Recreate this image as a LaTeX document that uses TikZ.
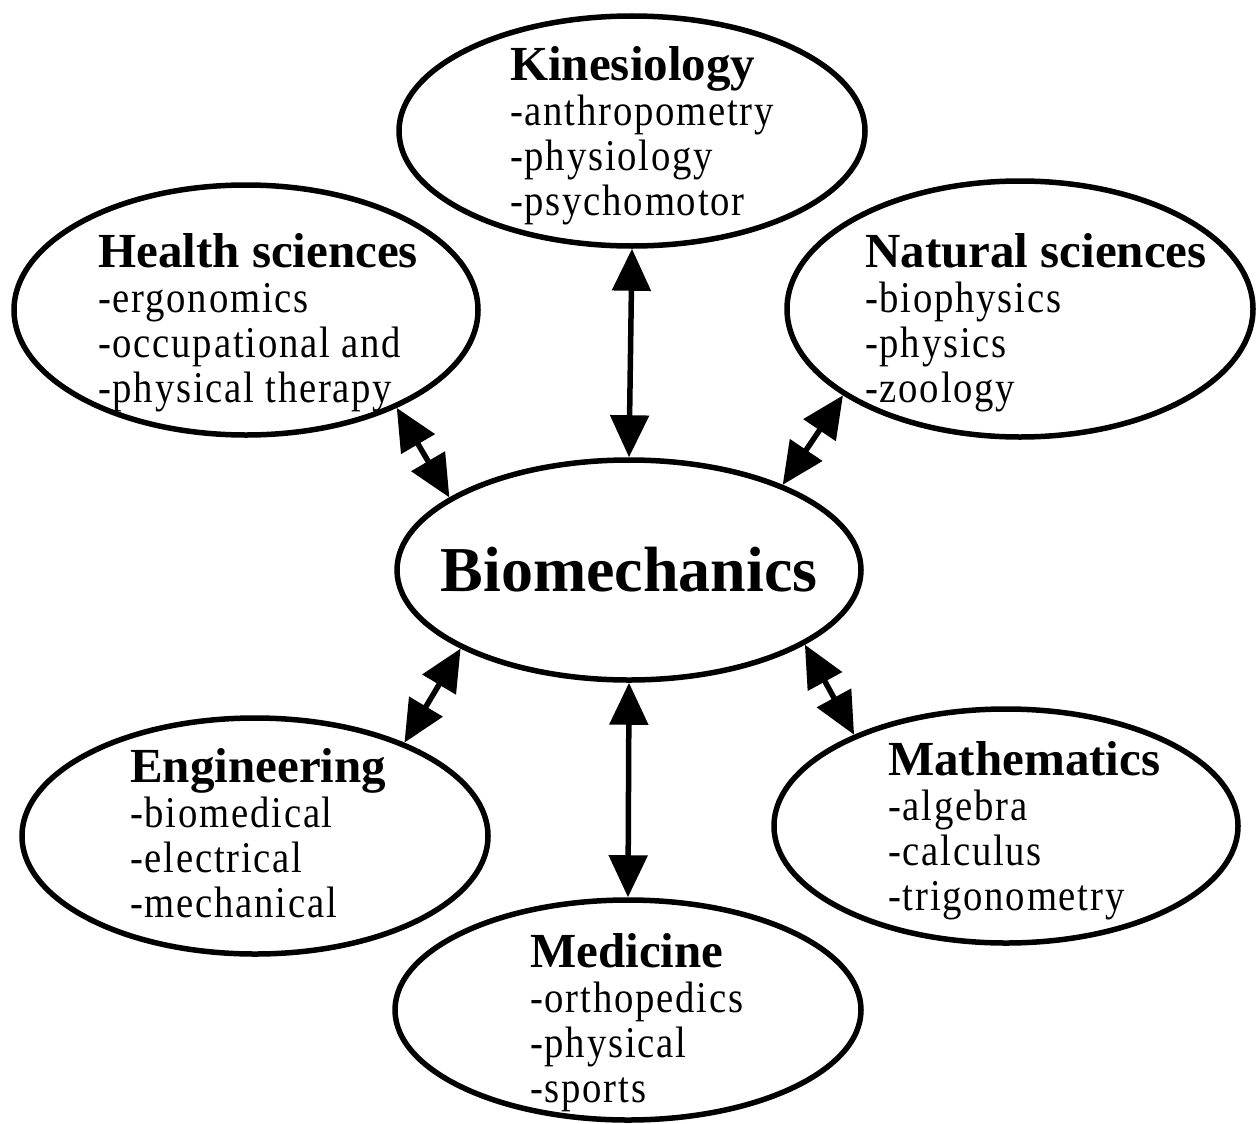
\documentclass[tikz,border=0pt]{standalone}
\usepackage{fontspec}
\setmainfont{Liberation Serif}
\newfontfamily\headfont{Liberation Serif}
\newfontfamily\itemfont[FakeStretch=0.88,LetterSpace=4]{Liberation Serif}
\usetikzlibrary{shapes.geometric,arrows.meta}
\tikzset{%
  topic/.style={%
    ellipse,%
    draw,%
    line width=5.5pt,%
    inner sep=0pt},
  topictext/.style={%
    anchor=north west,%
    inner sep=0pt,%
    align=left,%
    font=\itemfont\fontsize{44}{45}\selectfont},
  coretext/.style={%
    inner sep=0pt,%
    font=\headfont\bfseries\fontsize{64}{70}\selectfont},
  link/.style={%
    line width=5.5pt,%
    {Triangle[length=42pt,width=38pt]}-{Triangle[length=42pt,width=38pt]}}
}
\newcommand{\head}[1]{{\headfont\bfseries\fontsize{49}{45}\selectfont #1}}

\begin{document}
\begin{tikzpicture}[x=1pt,y=-1pt]
  \useasboundingbox (0,0) rectangle (1258,1124);
  % centre
  \node [topic,minimum width=464pt,minimum height=220pt] (bio) at (629,570) {};
  \node [coretext] (biotext) at (bio) {Biomechanics};
  % the six fields round it
  \node [topic,minimum width=466pt,minimum height=230pt] (kin) at (632,131) {};
  \node [topic,minimum width=464pt,minimum height=250pt] (health) at (246,310) {};
  \node [topic,minimum width=466pt,minimum height=256pt] (nat) at (1020,309) {};
  \node [topic,minimum width=466pt,minimum height=236pt] (eng) at (255,836) {};
  \node [topic,minimum width=464pt,minimum height=234pt] (math) at (1006,826) {};
  \node [topic,minimum width=466pt,minimum height=220pt] (med) at (628,1010) {};
  \node [topictext] (kintext) at (510,46) {%
    \head{Kinesiology}\\-anthropometry\\-physiology\\-psychomotor};
  \node [topictext] (healthtext) at (98,233) {%
    \head{Health sciences}\\-ergonomics\\-occupational and\\-physical therapy};
  \node [topictext] (nattext) at (865,233) {%
    \head{Natural sciences}\\-biophysics\\-physics\\-zoology};
  \node [topictext] (engtext) at (130,748) {%
    \head{Engineering}\\-biomedical\\-electrical\\-mechanical};
  \node [topictext] (mathtext) at (888,741) {%
    \head{Mathematics}\\-algebra\\-calculus\\-trigonometry};
  \node [topictext] (medtext) at (530,933) {%
    \head{Medicine}\\-orthopedics\\-physical\\-sports};
  % links
  \draw [link] (kin.south) -- (bio.north);
  \draw [link] (health.-33) -- (bio.158);
  \draw [link] (nat.206) -- (bio.29);
  \draw [link] (eng.32) -- (bio.205);
  \draw [link] (math.149) -- (bio.-23);
  \draw [link] (med.north) -- (bio.south);
\end{tikzpicture}
\end{document}
